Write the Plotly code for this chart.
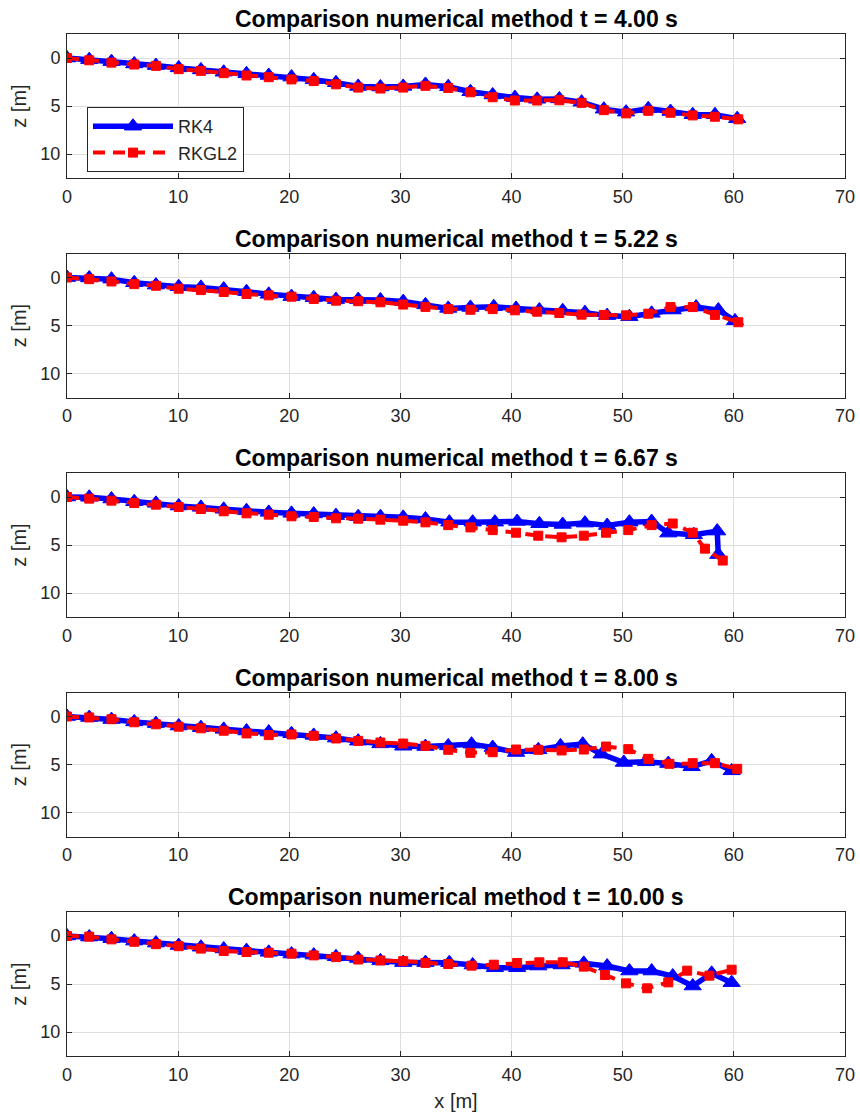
import plotly.graph_objects as go

# ---------------- data ----------------
times = ["4.00", "5.22", "6.67", "8.00", "10.00"]

x_left = [0, 2.0, 4.0, 6.05, 8.0, 10.05, 12.05, 14.1, 16.15, 18.15, 20.2, 22.2, 24.2, 26.2, 28.2, 30.25, 32.25]

# t = 4.00 s
rk4_x_1 = x_left + [34.3, 36.3, 38.3, 40.3, 42.3, 44.3, 46.3, 48.3, 50.3, 52.3, 54.3, 56.3, 58.3, 60.3]
rk4_z_1 = [0, 0.17, 0.38, 0.62, 0.79, 1.03, 1.24, 1.48, 1.65, 1.82, 1.99, 2.27, 2.58, 2.96, 3.02, 2.96, 2.75,
           2.99, 3.51, 3.85, 4.12, 4.30, 4.26, 4.60, 5.33, 5.64, 5.29, 5.57, 5.91, 5.91, 6.32]
gl_x_1 = x_left + [34.3, 36.3, 38.3, 40.3, 42.3, 44.3, 46.3, 48.3, 50.3, 52.3, 54.3, 56.3, 58.3, 60.4]
gl_z_1 = [0, 0.24, 0.48, 0.68, 0.82, 1.16, 1.34, 1.58, 1.82, 2.0, 2.23, 2.4, 2.74, 3.08, 3.18, 3.08, 2.9,
          3.12, 3.57, 4.09, 4.43, 4.43, 4.40, 4.67, 5.43, 5.77, 5.50, 5.70, 5.98, 6.12, 6.39]

# t = 5.22 s
rk4_x_2 = x_left + [34.3, 36.3, 38.4, 40.4, 42.5, 44.6, 46.6, 48.6, 50.6, 52.6, 54.5, 56.6, 58.6, 60.1]
rk4_z_2 = [0, 0.05, 0.17, 0.55, 0.79, 0.96, 1.03, 1.2, 1.48, 1.75, 1.99, 2.1, 2.3, 2.3, 2.34, 2.51, 2.85,
           3.22, 3.12, 3.05, 3.22, 3.39, 3.46, 3.66, 3.97, 4.08, 3.73, 3.39, 3.08, 3.39, 4.52]
gl_x_2 = x_left + [34.3, 36.3, 38.3, 40.3, 42.3, 44.3, 46.3, 48.3, 50.3, 52.3, 54.3, 56.3, 58.3, 60.4]
gl_z_2 = [0, 0.17, 0.41, 0.69, 0.86, 1.17, 1.31, 1.51, 1.72, 1.86, 2.0, 2.23, 2.41, 2.47, 2.58, 2.82, 3.06,
          3.29, 3.36, 3.29, 3.42, 3.56, 3.70, 3.87, 3.90, 3.94, 3.77, 3.08, 3.08, 3.90, 4.66]

# t = 6.67 s
rk4_x_3 = x_left + [34.4, 36.5, 38.5, 40.5, 42.5, 44.6, 46.6, 48.6, 50.6, 52.6, 54.1, 56.4, 58.5, 58.6]
rk4_z_3 = [0, 0.03, 0.21, 0.49, 0.66, 0.94, 1.08, 1.28, 1.42, 1.6, 1.7, 1.77, 1.94, 2.05, 2.05, 2.12, 2.29,
           2.62, 2.62, 2.62, 2.55, 2.79, 2.86, 2.72, 2.97, 2.62, 2.55, 3.76, 3.93, 3.55, 6.0]
gl_x_3 = x_left + [34.3, 36.3, 38.3, 40.4, 42.4, 44.5, 46.5, 48.5, 50.5, 52.6, 54.5, 56.3, 57.4, 59.0]
gl_z_3 = [0, 0.17, 0.38, 0.63, 0.8, 1.04, 1.25, 1.49, 1.7, 1.84, 2.01, 2.08, 2.22, 2.26, 2.36, 2.47, 2.64,
          2.93, 3.17, 3.45, 3.72, 4.03, 4.20, 4.03, 3.72, 3.45, 2.93, 2.76, 3.72, 5.38, 6.62]

# t = 8.00 s
rk4_x_4 = x_left + [34.3, 36.4, 38.3, 40.4, 42.4, 44.4, 46.4, 48.1, 50.1, 52.1, 54.1, 56.2, 58.0, 59.8]
rk4_z_4 = [0, 0.11, 0.32, 0.56, 0.74, 0.99, 1.16, 1.34, 1.51, 1.62, 1.8, 1.97, 2.25, 2.57, 2.85, 3.1, 3.13,
           3.06, 2.88, 3.23, 3.75, 3.47, 3.06, 2.88, 3.92, 4.79, 4.72, 4.90, 5.24, 4.62, 5.66]
gl_x_4 = x_left + [34.3, 36.3, 38.3, 40.4, 42.4, 44.5, 46.5, 48.5, 50.5, 52.3, 54.2, 56.3, 58.3, 60.3]
gl_z_4 = [0, 0.1, 0.28, 0.6, 0.81, 1.06, 1.23, 1.48, 1.76, 1.94, 1.87, 2.01, 2.29, 2.54, 2.71, 2.82, 3.06,
          3.47, 3.78, 3.72, 3.44, 3.47, 3.54, 3.44, 3.13, 3.40, 4.41, 4.93, 4.86, 4.86, 5.45]

# t = 10.00 s
rk4_x_5 = x_left + [34.4, 36.5, 38.5, 40.5, 42.4, 44.5, 46.5, 48.6, 50.6, 52.6, 54.5, 56.3, 58.0, 59.8]
rk4_z_5 = [0, 0.11, 0.28, 0.53, 0.74, 0.99, 1.17, 1.35, 1.52, 1.7, 1.88, 1.99, 2.16, 2.34, 2.59, 2.77, 2.77,
           2.78, 3.02, 3.30, 3.30, 3.13, 3.02, 2.85, 3.13, 3.65, 3.65, 4.17, 5.21, 3.89, 4.86]
gl_x_5 = x_left + [34.3, 36.4, 38.4, 40.5, 42.5, 44.6, 46.5, 48.4, 50.3, 52.2, 54.1, 55.8, 57.8, 59.8]
gl_z_5 = [0, 0.07, 0.35, 0.6, 0.85, 1.06, 1.31, 1.56, 1.67, 1.74, 1.84, 2.02, 2.2, 2.45, 2.55, 2.62, 2.8,
          2.92, 3.09, 2.99, 2.81, 2.74, 2.74, 3.19, 4.06, 4.93, 5.45, 4.83, 3.61, 4.13, 3.51]

rk4_x = [rk4_x_1, rk4_x_2, rk4_x_3, rk4_x_4, rk4_x_5]
rk4_z = [rk4_z_1, rk4_z_2, rk4_z_3, rk4_z_4, rk4_z_5]
gl_x = [gl_x_1, gl_x_2, gl_x_3, gl_x_4, gl_x_5]
gl_z = [gl_z_1, gl_z_2, gl_z_3, gl_z_4, gl_z_5]

x_ticks = [0, 10, 20, 30, 40, 50, 60, 70]
z_ticks = [0, 5, 10]

# ---------------- layout geometry ----------------
W, H = 860, 1115
ML, MR, MT, MB = 67, 15, 34, 59
plot_h = H - MT - MB
panel_tops = [34, 253.5, 473, 692.5, 912]
panel_h = 144

FONT = "Liberation Sans, Arial, Helvetica, sans-serif"
AXC = "#262626"
GRID = "#dedede"
BLUE = "#0000ff"
RED = "#ff0000"

fig = go.Figure()
layout = dict(
    width=W, height=H,
    margin=dict(l=ML, r=MR, t=MT, b=MB, autoexpand=False),
    paper_bgcolor="white", plot_bgcolor="white",
    font=dict(family=FONT, color=AXC, size=18),
    showlegend=True,
    annotations=[],
)

for i in range(5):
    top = panel_tops[i]
    bot = top + panel_h
    dom = [(H - MB - bot) / plot_h, (H - MB - top) / plot_h]
    xa = "xaxis" if i == 0 else f"xaxis{i+1}"
    ya = "yaxis" if i == 0 else f"yaxis{i+1}"
    xr = "x" if i == 0 else f"x{i+1}"
    yr = "y" if i == 0 else f"y{i+1}"
    layout[xa] = dict(
        domain=[0, 1], anchor=yr, range=[0, 70], tickvals=x_ticks, automargin=False,
        ticks="inside", ticklen=5, tickcolor=AXC, showline=True, linecolor=AXC, linewidth=1,
        mirror="allticks", showgrid=True, gridcolor=GRID, gridwidth=1, zeroline=False,
        tickfont=dict(size=18, color=AXC), ticklabelstandoff=2,
    )
    layout[ya] = dict(
        domain=dom, anchor=xr, range=[12.5, -2.5], tickvals=z_ticks, automargin=False,
        ticks="inside", ticklen=5, tickcolor=AXC, showline=True, linecolor=AXC, linewidth=1,
        mirror="allticks", showgrid=True, gridcolor=GRID, gridwidth=1, zeroline=False,
        tickfont=dict(size=18, color=AXC), ticklabelstandoff=2,
        title=dict(text="z [m]", font=dict(size=20, color=AXC), standoff=8),
    )
    if i == 4:
        layout[xa]["title"] = dict(text="x [m]", font=dict(size=20, color=AXC), standoff=10)

    fig.add_trace(go.Scatter(
        x=rk4_x[i], y=rk4_z[i], xaxis=xr, yaxis=yr, mode="lines+markers", name="RK4",
        line=dict(color=BLUE, width=5.5),
        marker=dict(symbol="triangle-up", size=15, color=BLUE, line=dict(color=BLUE, width=1)),
        showlegend=(i == 0), legendgroup="rk4",
    ))
    fig.add_trace(go.Scatter(
        x=gl_x[i], y=gl_z[i], xaxis=xr, yaxis=yr, mode="lines+markers", name="RKGL2",
        line=dict(color=RED, width=4, dash="12px,8px"),
        marker=dict(symbol="square", size=9, color=RED, line=dict(color=RED, width=1)),
        showlegend=(i == 0), legendgroup="gl",
    ))
    layout["annotations"].append(dict(
        text=f"<b>Comparison numerical method t = {times[i]} s</b>",
        xref="paper", yref="paper", x=0.5, y=dom[1], xanchor="center", yanchor="bottom",
        yshift=0, showarrow=False, font=dict(size=23, color="black", family=FONT),
    ))

layout["legend"] = dict(
    x=(87 - ML) / (W - ML - MR), y=(H - MB - 107) / plot_h, xanchor="left", yanchor="top",
    bgcolor="white", bordercolor=AXC, borderwidth=1, font=dict(size=18, color=AXC),
    itemwidth=80, tracegroupgap=0,
)

fig.update_layout(**layout)
fig.write_html(
    "out.html",
    config={"displayModeBar": False},
    post_script="document.body.style.margin='0';document.body.style.overflow='hidden';",
)
